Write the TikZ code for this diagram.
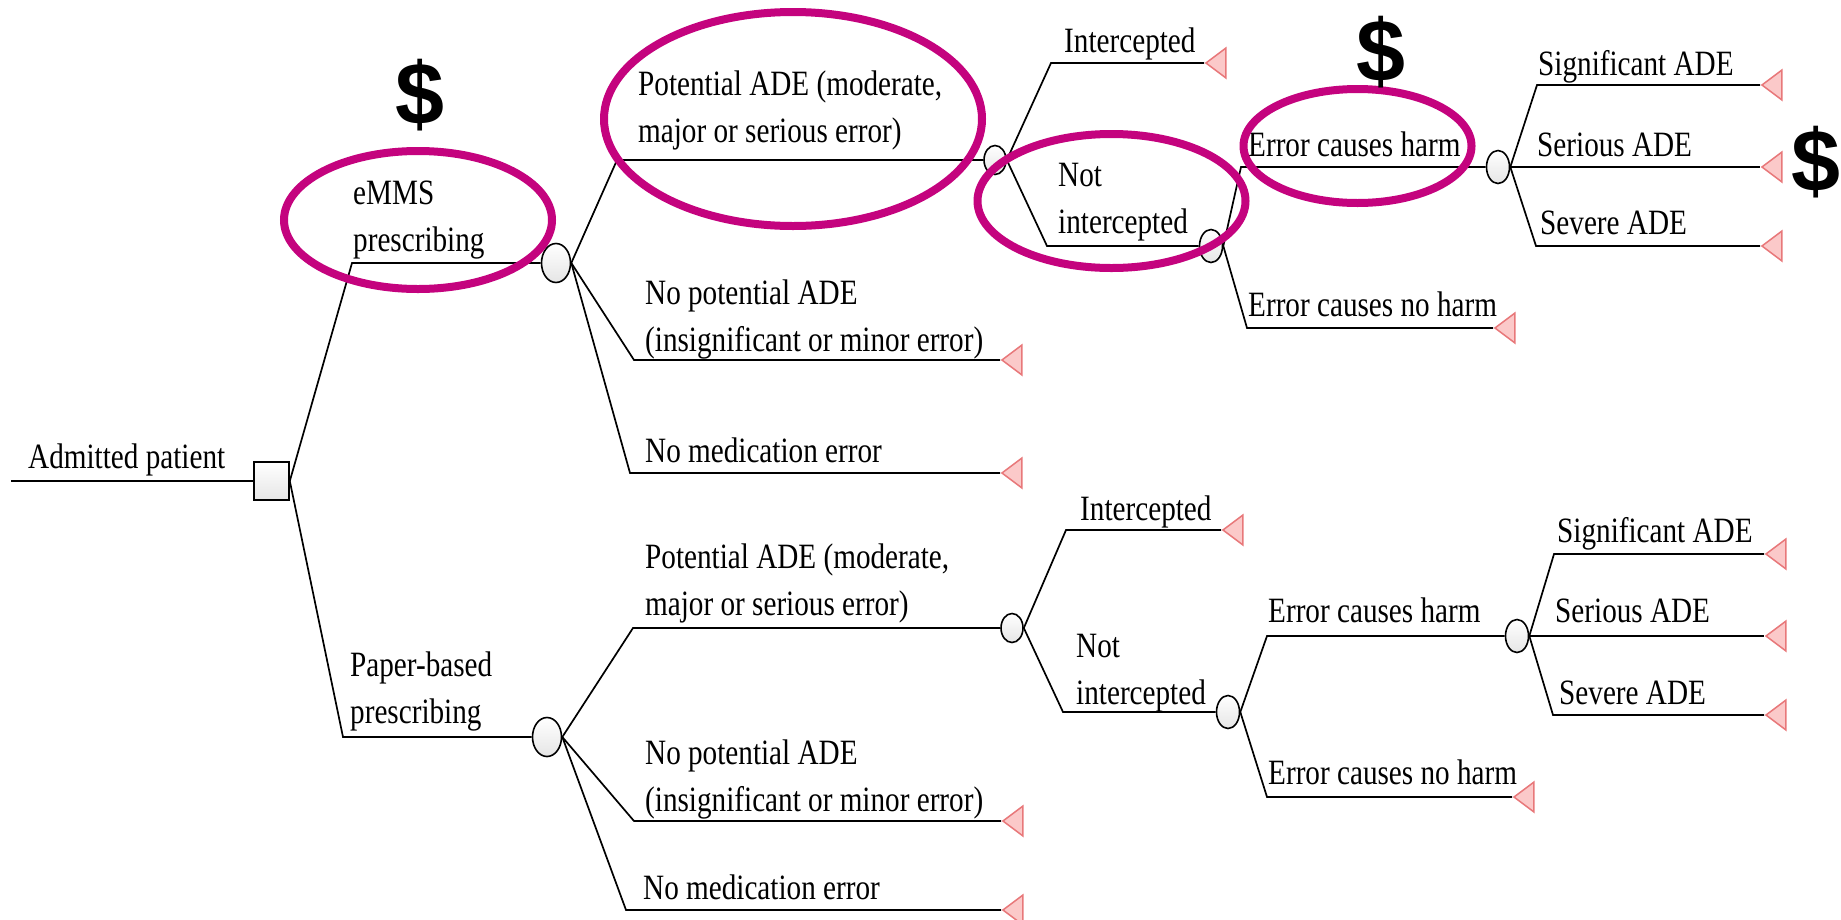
\documentclass[tikz,border=0pt]{standalone}
\usepackage{fontspec}
\setmainfont{Liberation Serif}[FakeStretch=0.82]
\newfontfamily\costfont{Liberation Sans}
\usepackage{xcolor}
\definecolor{ring-magenta}{HTML}{C4037E}
\definecolor{leaf-pink}{HTML}{FBC9C9}
\definecolor{leaf-red}{HTML}{E8787A}
\usetikzlibrary{positioning,shapes.geometric}
\newcommand{\lblstrut}{\rule[-8.5pt]{0pt}{8.5pt}}

\tikzset{
  branch/.style={line width=1.7pt},
  decision/.style={draw, line width=1.6pt, top color=white, bottom color=gray!20,
    minimum width=35pt, minimum height=38pt, inner sep=0pt},
  chance/.style={ellipse, draw, line width=1.6pt, top color=white, bottom color=gray!20,
    minimum width=29pt, minimum height=39pt, inner sep=0pt},
  chance small/.style={chance, minimum width=23pt, minimum height=33pt},
  chance tiny/.style={chance, minimum width=22pt, minimum height=29pt},
  leaf/.style={isosceles triangle, isosceles triangle stretches, shape border rotate=180,
    draw=leaf-red, fill=leaf-pink, line width=1.5pt,
    minimum width=30pt, minimum height=20pt, inner sep=0pt, anchor=apex},
  lbl/.style={anchor=south west, inner sep=0pt, align=left,
    font=\fontsize{35.6}{47.5}\selectfont},
  ring/.style={draw=ring-magenta, line width=8pt},
  cost/.style={inner sep=0pt, font=\costfont\bfseries\fontsize{88}{88}\selectfont},
}

\begin{document}
\begin{tikzpicture}[x=1pt, y=-1pt]

    \useasboundingbox (0,0) rectangle (1841,919);

    % Root
    \coordinate (start) at (11,481);
    \node[decision] (root) at (271.5,481) {};
    \draw[branch] (start) -- (root.west);
    \node[lbl] (lRoot) at (28,477.5) {Admitted patient\lblstrut};

    % eMMS prescribing
    \coordinate (kE) at (352,263);
    \node[chance] (cE) at (556,263) {};
    \draw[branch] (root.east) -- (kE) -- (cE.west);
    \node[lbl] (lE) at (353,260.5) {eMMS\\prescribing\lblstrut};

    \coordinate (kEpot) at (617,160);
    \coordinate (kEnopot) at (634,360);
    \coordinate (kEnomed) at (630,473);
    \node[chance tiny] (cEpot) at (995,160) {};
    \node[leaf] (tEnopot) at (1000,360) {};
    \node[leaf] (tEnomed) at (1000,473) {};
    \draw[branch] (cE.east) -- (kEpot) -- (cEpot.west);
    \draw[branch] (cE.east) -- (kEnopot) -- (tEnopot.apex);
    \draw[branch] (cE.east) -- (kEnomed) -- (tEnomed.apex);
    \node[lbl] (lEpot) at (638,151.5) {Potential ADE (moderate,\\major or serious error)\lblstrut};
    \node[lbl] (lEnopot) at (645,360.5) {No potential ADE\\(insignificant or minor error)\lblstrut};
    \node[lbl] (lEnomed) at (645,471.5) {No medication error\lblstrut};

    \coordinate (kEint) at (1051,63);
    \coordinate (kEnot) at (1047,246);
    \node[leaf] (tEint) at (1204,63) {};
    \node[chance small] (cEnot) at (1211,246) {};
    \draw[branch] (cEpot.east) -- (kEint) -- (tEint.apex);
    \draw[branch] (cEpot.east) -- (kEnot) -- (cEnot.west);
    \node[lbl] (lEint) at (1064,61.5) {Intercepted\lblstrut};
    \node[lbl] (lEnot) at (1058,242.5) {Not\\intercepted\lblstrut};

    \coordinate (kEharm) at (1241,167);
    \coordinate (kEnoharm) at (1247,328);
    \node[chance small] (cEharm) at (1498,167) {};
    \node[leaf] (tEnoharm) at (1493,328) {};
    \draw[branch] (cEnot.east) -- (kEharm) -- (cEharm.west);
    \draw[branch] (cEnot.east) -- (kEnoharm) -- (tEnoharm.apex);
    \node[lbl] (lEharm) at (1248,165.5) {Error causes harm\lblstrut};
    \node[lbl] (lEnoharm) at (1248,325.5) {Error causes no harm\lblstrut};

    \coordinate (kEsig) at (1537,85);
    \coordinate (kEser) at (1537,167);
    \coordinate (kEsev) at (1536,246);
    \node[leaf] (tEsig) at (1760,85) {};
    \node[leaf] (tEser) at (1760,167) {};
    \node[leaf] (tEsev) at (1760,246) {};
    \draw[branch] (cEharm.east) -- (kEsig) -- (tEsig.apex);
    \draw[branch] (cEharm.east) -- (kEser) -- (tEser.apex);
    \draw[branch] (cEharm.east) -- (kEsev) -- (tEsev.apex);
    \node[lbl] (lEsig) at (1538,84.5) {Significant ADE\lblstrut};
    \node[lbl] (lEser) at (1537,165.5) {Serious ADE\lblstrut};
    \node[lbl] (lEsev) at (1540,243.5) {Severe ADE\lblstrut};

    % Paper-based prescribing
    \coordinate (kP) at (343,737);
    \node[chance] (cP) at (547,737) {};
    \draw[branch] (root.east) -- (kP) -- (cP.west);
    \node[lbl] (lP) at (350,732.5) {Paper-based\\prescribing\lblstrut};

    \coordinate (kPpot) at (633,628);
    \coordinate (kPnopot) at (634,821);
    \coordinate (kPnomed) at (626,910);
    \node[chance tiny] (cPpot) at (1012,628) {};
    \node[leaf] (tPnopot) at (1001,821) {};
    \node[leaf] (tPnomed) at (1001,910) {};
    \draw[branch] (cP.east) -- (kPpot) -- (cPpot.west);
    \draw[branch] (cP.east) -- (kPnopot) -- (tPnopot.apex);
    \draw[branch] (cP.east) -- (kPnomed) -- (tPnomed.apex);
    \node[lbl] (lPpot) at (645,624.5) {Potential ADE (moderate,\\major or serious error)\lblstrut};
    \node[lbl] (lPnopot) at (645,820.5) {No potential ADE\\(insignificant or minor error)\lblstrut};
    \node[lbl] (lPnomed) at (643,908.5) {No medication error\lblstrut};

    \coordinate (kPint) at (1066,530);
    \coordinate (kPnot) at (1063,712);
    \node[leaf] (tPint) at (1221,530) {};
    \node[chance small] (cPnot) at (1228,712) {};
    \draw[branch] (cPpot.east) -- (kPint) -- (tPint.apex);
    \draw[branch] (cPpot.east) -- (kPnot) -- (cPnot.west);
    \node[lbl] (lPint) at (1080,529.5) {Intercepted\lblstrut};
    \node[lbl] (lPnot) at (1076,713.5) {Not\\intercepted\lblstrut};

    \coordinate (kPharm) at (1267,636);
    \coordinate (kPnoharm) at (1267,797);
    \node[chance small] (cPharm) at (1517,636) {};
    \node[leaf] (tPnoharm) at (1512,797) {};
    \draw[branch] (cPnot.east) -- (kPharm) -- (cPharm.west);
    \draw[branch] (cPnot.east) -- (kPnoharm) -- (tPnoharm.apex);
    \node[lbl] (lPharm) at (1268,631.5) {Error causes harm\lblstrut};
    \node[lbl] (lPnoharm) at (1268,793.5) {Error causes no harm\lblstrut};

    \coordinate (kPsig) at (1554,554);
    \coordinate (kPser) at (1554,636);
    \coordinate (kPsev) at (1553,715);
    \node[leaf] (tPsig) at (1764,554) {};
    \node[leaf] (tPser) at (1764,636) {};
    \node[leaf] (tPsev) at (1764,715) {};
    \draw[branch] (cPharm.east) -- (kPsig) -- (tPsig.apex);
    \draw[branch] (cPharm.east) -- (kPser) -- (tPser.apex);
    \draw[branch] (cPharm.east) -- (kPsev) -- (tPsev.apex);
    \node[lbl] (lPsig) at (1557,551.5) {Significant ADE\lblstrut};
    \node[lbl] (lPser) at (1555,631.5) {Serious ADE\lblstrut};
    \node[lbl] (lPsev) at (1559,713.5) {Severe ADE\lblstrut};

    % Highlight rings
    \draw[ring] (418,220) ellipse [x radius=134, y radius=69];
    \draw[ring] (793,119) ellipse [x radius=189, y radius=107];
    \draw[ring] (1111.5,201) ellipse [x radius=134, y radius=67];
    \draw[ring] (1357.5,146) ellipse [x radius=114, y radius=57];

    % Cost markers
    \node[cost] (costE) at (420,95) {\$};
    \node[cost] (costHarm) at (1381,52) {\$};
    \node[cost] (costAde) at (1816,162) {\$};

\end{tikzpicture}
\end{document}
